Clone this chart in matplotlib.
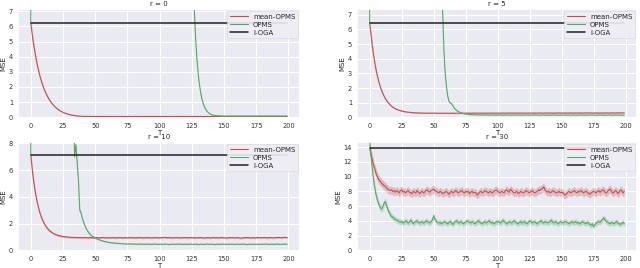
import matplotlib
matplotlib.use("Agg")
import matplotlib.pyplot as plt
import numpy as np
import seaborn as sns

sns.set_theme(style="darkgrid")
plt.rcParams['font.family'] = ['DejaVu Sans']

T = list(range(200))
titles = ["r = 0", "r = 5", "r = 10", "r = 30"]
labels = ["mean-OPMS", "OPMS", "I-OGA"]
oga = [6.2, 6.43, 7.13, 13.85]
ylims = [(-0.05, 7.15), (-0.05, 7.4), (-0.05, 8.1), (-0.1, 14.7)]
yticks = [list(range(0, 8)), list(range(0, 8)), [0, 2, 4, 6, 8], [0, 2, 4, 6, 8, 10, 12, 14]]
xticks = [0, 25, 50, 75, 100, 125, 150, 175, 200]

# ---- r = 0 ----
mean_opms_r0 = [
    6.20, 5.52, 4.91, 4.37, 3.89, 3.46, 3.08, 2.74, 2.44, 2.17, 1.93, 1.72, 1.53, 1.36, 1.21, 1.08, 0.96, 0.85, 0.76, 0.67,
    0.60, 0.53, 0.47, 0.42, 0.37, 0.33, 0.29, 0.26, 0.23, 0.20, 0.18, 0.16, 0.14, 0.13, 0.11, 0.10, 0.09, 0.08, 0.08, 0.07,
    0.06, 0.06, 0.06, 0.06, 0.06, 0.05, 0.06, 0.05, 0.05, 0.06, 0.05, 0.05, 0.05, 0.06, 0.05, 0.05, 0.05, 0.05, 0.06, 0.05,
    0.05, 0.05, 0.05, 0.06, 0.05, 0.05, 0.05, 0.05, 0.05, 0.06, 0.05, 0.05, 0.05, 0.05, 0.05, 0.05, 0.06, 0.05, 0.05, 0.05,
    0.05, 0.06, 0.05, 0.05, 0.05, 0.05, 0.05, 0.06, 0.05, 0.05, 0.05, 0.05, 0.06, 0.05, 0.05, 0.05, 0.05, 0.05, 0.06, 0.05,
    0.05, 0.05, 0.06, 0.05, 0.05, 0.05, 0.05, 0.05, 0.05, 0.06, 0.05, 0.05, 0.05, 0.06, 0.05, 0.05, 0.05, 0.05, 0.05, 0.05,
    0.06, 0.05, 0.05, 0.05, 0.05, 0.06, 0.05, 0.05, 0.05, 0.05, 0.05, 0.05, 0.06, 0.05, 0.05, 0.05, 0.05, 0.06, 0.05, 0.05,
    0.05, 0.05, 0.05, 0.06, 0.05, 0.05, 0.05, 0.05, 0.06, 0.05, 0.05, 0.05, 0.05, 0.05, 0.06, 0.05, 0.05, 0.05, 0.05, 0.05,
    0.05, 0.06, 0.05, 0.05, 0.05, 0.05, 0.05, 0.06, 0.05, 0.05, 0.05, 0.05, 0.05, 0.06, 0.05, 0.05, 0.05, 0.05, 0.06, 0.05,
    0.05, 0.05, 0.05, 0.05, 0.06, 0.05, 0.05, 0.05, 0.05, 0.06, 0.05, 0.05, 0.05, 0.05, 0.05, 0.06, 0.05, 0.05, 0.05, 0.05,
]
opms_r0 = [
    6.20, 420, 415, 410, 405, 400, 396, 392, 388, 384, 380, 376, 372, 368, 364, 360, 356, 352, 348, 344,
    340, 336, 332, 328, 324, 320, 316, 312, 308, 304, 300, 296, 292, 288, 284, 280, 276, 272, 268, 264,
    260, 256, 252, 248, 244, 240, 236, 232, 228, 224, 220, 216, 212, 208, 204, 200, 197, 194, 191, 188,
    185, 182, 179, 176, 173, 170, 167, 164, 161, 158, 155, 152, 149, 146, 143, 140, 137, 134, 131, 128,
    125, 122, 119, 116, 113, 110, 107, 104, 101, 98, 95, 92, 89, 86, 83, 80, 78, 76, 74, 72,
    70, 68, 66, 64, 62, 60, 58, 56, 54, 52, 50, 48, 46, 44, 42, 40, 36, 30, 25, 21,
    18.0, 16.0, 14.5, 13.5, 12.5, 11.0, 9.0, 6.9, 5.1, 3.8, 2.8, 2.1, 1.55, 1.15, 0.86, 0.65, 0.49, 0.37, 0.29, 0.23,
    0.18, 0.15, 0.13, 0.11, 0.10, 0.09, 0.09, 0.08, 0.08, 0.08, 0.08, 0.07, 0.08, 0.08, 0.07, 0.08, 0.08, 0.07, 0.08, 0.07,
    0.08, 0.07, 0.08, 0.08, 0.07, 0.08, 0.07, 0.08, 0.08, 0.07, 0.08, 0.08, 0.07, 0.08, 0.07, 0.08, 0.08, 0.07, 0.08, 0.08,
    0.07, 0.08, 0.08, 0.07, 0.08, 0.07, 0.08, 0.08, 0.07, 0.08, 0.08, 0.07, 0.08, 0.08, 0.07, 0.08, 0.07, 0.08, 0.08, 0.07,
]

# ---- r = 5 ----
mean_opms_r5 = [
    6.43, 5.63, 4.89, 4.25, 3.69, 3.22, 2.81, 2.45, 2.15, 1.89, 1.67, 1.48, 1.31, 1.17, 1.04, 0.94, 0.84, 0.76, 0.70, 0.64,
    0.59, 0.54, 0.51, 0.48, 0.45, 0.43, 0.41, 0.39, 0.37, 0.36, 0.35, 0.34, 0.33, 0.32, 0.31, 0.31, 0.30, 0.30, 0.30, 0.29,
    0.29, 0.29, 0.28, 0.29, 0.28, 0.28, 0.29, 0.28, 0.28, 0.28, 0.29, 0.28, 0.28, 0.28, 0.27, 0.28, 0.28, 0.28, 0.28, 0.27,
    0.28, 0.28, 0.27, 0.28, 0.28, 0.28, 0.28, 0.27, 0.28, 0.28, 0.28, 0.28, 0.29, 0.28, 0.28, 0.28, 0.28, 0.29, 0.28, 0.28,
    0.28, 0.29, 0.28, 0.28, 0.28, 0.29, 0.28, 0.28, 0.29, 0.28, 0.28, 0.29, 0.28, 0.28, 0.28, 0.29, 0.28, 0.29, 0.28, 0.28,
    0.29, 0.28, 0.28, 0.29, 0.29, 0.28, 0.28, 0.29, 0.28, 0.29, 0.29, 0.28, 0.29, 0.28, 0.29, 0.29, 0.28, 0.29, 0.29, 0.28,
    0.29, 0.29, 0.28, 0.29, 0.29, 0.29, 0.28, 0.29, 0.29, 0.29, 0.28, 0.29, 0.29, 0.29, 0.29, 0.28, 0.29, 0.29, 0.29, 0.29,
    0.29, 0.29, 0.29, 0.28, 0.29, 0.29, 0.29, 0.30, 0.29, 0.29, 0.29, 0.29, 0.30, 0.29, 0.29, 0.29, 0.29, 0.30, 0.29, 0.29,
    0.29, 0.30, 0.29, 0.29, 0.29, 0.30, 0.29, 0.29, 0.30, 0.29, 0.29, 0.30, 0.29, 0.30, 0.29, 0.29, 0.30, 0.29, 0.30, 0.29,
    0.29, 0.29, 0.30, 0.29, 0.29, 0.30, 0.30, 0.29, 0.30, 0.29, 0.30, 0.30, 0.29, 0.30, 0.30, 0.31, 0.30, 0.30, 0.30, 0.30,
]
opms_r5 = [
    6.43, 300, 290, 280, 270, 260, 250, 240, 230, 220, 210, 200, 192, 184, 176, 168, 160, 152, 145, 138,
    131, 124, 118, 112, 106, 100, 95, 90, 85, 80, 76, 72, 68, 64, 60, 57, 54, 51, 48, 45,
    42, 39, 37, 35, 33, 31, 29, 27, 25, 23, 21.5, 20, 18.5, 16.5, 14.5, 12.5, 10.5, 7.2, 4.6, 3.0,
    2.1, 1.45, 1.08, 0.98, 0.92, 0.78, 0.64, 0.54, 0.47, 0.41, 0.36, 0.32, 0.28, 0.26, 0.24, 0.22, 0.21, 0.20, 0.19, 0.18,
    0.18, 0.17, 0.17, 0.17, 0.16, 0.16, 0.16, 0.16, 0.16, 0.15, 0.16, 0.15, 0.16, 0.15, 0.15, 0.15, 0.16, 0.15, 0.15, 0.15,
    0.15, 0.16, 0.15, 0.15, 0.14, 0.15, 0.15, 0.16, 0.15, 0.15, 0.15, 0.14, 0.15, 0.15, 0.16, 0.15, 0.15, 0.15, 0.14, 0.15,
    0.15, 0.15, 0.16, 0.15, 0.15, 0.14, 0.15, 0.15, 0.15, 0.16, 0.15, 0.15, 0.15, 0.14, 0.15, 0.15, 0.16, 0.15, 0.15, 0.15,
    0.14, 0.15, 0.15, 0.15, 0.16, 0.15, 0.15, 0.15, 0.14, 0.15, 0.15, 0.15, 0.16, 0.15, 0.15, 0.14, 0.15, 0.15, 0.15, 0.16,
    0.15, 0.15, 0.14, 0.15, 0.15, 0.16, 0.15, 0.15, 0.15, 0.14, 0.15, 0.15, 0.16, 0.15, 0.15, 0.15, 0.14, 0.15, 0.15, 0.15,
    0.16, 0.15, 0.15, 0.14, 0.15, 0.15, 0.15, 0.16, 0.15, 0.15, 0.14, 0.15, 0.15, 0.15, 0.16, 0.15, 0.15, 0.15, 0.14, 0.15,
]

# ---- r = 10 ----
mean_opms_r10 = [
    7.13, 6.14, 5.33, 4.64, 4.07, 3.58, 3.17, 2.82, 2.53, 2.28, 2.08, 1.90, 1.75, 1.63, 1.52, 1.43, 1.36, 1.29, 1.24, 1.19,
    1.16, 1.12, 1.10, 1.07, 1.05, 1.04, 1.02, 1.01, 1.00, 0.99, 0.98, 0.97, 0.98, 0.96, 0.97, 0.96, 0.95, 0.96, 0.95, 0.94,
    0.95, 0.94, 0.96, 0.95, 0.93, 0.94, 0.96, 0.95, 0.94, 0.93, 0.95, 0.96, 0.94, 0.93, 0.95, 0.94, 0.96, 0.95, 0.93, 0.94,
    0.95, 0.93, 0.94, 0.96, 0.95, 0.94, 0.93, 0.95, 0.94, 0.96, 0.95, 0.93, 0.94, 0.95, 0.94, 0.93, 0.95, 0.96, 0.94, 0.95,
    0.94, 0.93, 0.95, 0.94, 0.96, 0.95, 0.94, 0.93, 0.94, 0.95, 0.96, 0.94, 0.95, 0.93, 0.94, 0.95, 0.94, 0.96, 0.95, 0.94,
    0.93, 0.95, 0.94, 0.96, 0.97, 0.95, 0.94, 0.96, 0.95, 0.93, 0.94, 0.95, 0.94, 0.96, 0.95, 0.94, 0.93, 0.95, 0.94, 0.96,
    0.95, 0.94, 0.93, 0.95, 0.96, 0.94, 0.95, 0.93, 0.94, 0.95, 0.94, 0.96, 0.95, 0.94, 0.93, 0.92, 0.94, 0.95, 0.94, 0.93,
    0.94, 0.95, 0.96, 0.94, 0.95, 0.93, 0.94, 0.95, 0.96, 0.95, 0.94, 0.93, 0.92, 0.94, 0.95, 0.94, 0.96, 0.95, 0.94, 0.93,
    0.95, 0.94, 0.93, 0.91, 0.93, 0.94, 0.95, 0.94, 0.96, 0.95, 0.94, 0.93, 0.95, 0.94, 0.93, 0.95, 0.96, 0.95, 0.94, 0.95,
    0.94, 0.96, 0.95, 0.94, 0.93, 0.95, 0.96, 0.94, 0.93, 0.95, 0.94, 0.96, 0.97, 0.95, 0.94, 0.95, 0.96, 0.98, 0.96, 0.95,
]
opms_r10 = [
    7.13, 200, 190, 180, 170, 160, 150, 141, 132, 124, 116, 108, 101, 94, 88, 82, 76, 71, 66, 61,
    57, 53, 49, 45, 42, 39, 36, 33, 30, 27, 24, 21, 17, 12, 7.0, 7.9, 6.6, 5.2, 3.0, 2.8,
    2.4, 2.1, 1.85, 1.62, 1.45, 1.32, 1.20, 1.10, 1.03, 0.98, 0.93, 0.88, 0.83, 0.79, 0.75, 0.72, 0.69, 0.66, 0.64, 0.62,
    0.60, 0.58, 0.57, 0.56, 0.55, 0.54, 0.53, 0.52, 0.51, 0.51, 0.50, 0.49, 0.49, 0.48, 0.48, 0.47, 0.48, 0.47, 0.46, 0.47,
    0.46, 0.47, 0.45, 0.46, 0.47, 0.46, 0.45, 0.46, 0.44, 0.46, 0.47, 0.45, 0.46, 0.45, 0.44, 0.46, 0.47, 0.46, 0.45, 0.44,
    0.45, 0.46, 0.44, 0.45, 0.47, 0.46, 0.45, 0.44, 0.43, 0.45, 0.46, 0.45, 0.44, 0.46, 0.45, 0.47, 0.46, 0.45, 0.44, 0.45,
    0.46, 0.45, 0.44, 0.46, 0.47, 0.45, 0.44, 0.45, 0.46, 0.45, 0.43, 0.44, 0.46, 0.45, 0.44, 0.45, 0.46, 0.47, 0.45, 0.44,
    0.45, 0.46, 0.44, 0.43, 0.45, 0.46, 0.45, 0.44, 0.46, 0.47, 0.45, 0.44, 0.45, 0.46, 0.44, 0.45, 0.46, 0.45, 0.44, 0.45,
    0.46, 0.45, 0.44, 0.45, 0.46, 0.47, 0.45, 0.44, 0.43, 0.45, 0.46, 0.45, 0.44, 0.46, 0.45, 0.44, 0.45, 0.46, 0.44, 0.45,
    0.46, 0.45, 0.47, 0.46, 0.45, 0.44, 0.45, 0.46, 0.45, 0.44, 0.46, 0.47, 0.46, 0.45, 0.44, 0.46, 0.45, 0.47, 0.46, 0.45,
]

# ---- r = 30 ----
mean_opms_r30 = [
    13.85, 13.0, 12.3, 11.6, 11.0, 10.4, 10.0, 9.6, 9.4, 9.2, 9.0, 8.8, 8.7, 8.5, 8.3, 8.2, 8.1, 8.2, 8.0, 8.1,
    7.9, 8.1, 8.0, 7.8, 8.1, 8.2, 7.9, 8.0, 7.8, 8.0, 8.1, 7.9, 7.8, 7.7, 8.0, 7.9, 7.8, 8.1, 7.9, 7.7,
    7.9, 8.0, 7.8, 7.9, 8.1, 8.2, 8.0, 7.9, 8.1, 8.2, 8.3, 8.1, 8.0, 7.9, 7.8, 8.0, 7.9, 7.7, 7.8, 7.9,
    8.0, 7.8, 7.6, 7.9, 8.0, 7.8, 7.9, 8.1, 8.0, 7.8, 7.9, 8.0, 8.1, 7.9, 7.8, 8.0, 7.9, 8.0, 7.7, 7.9,
    8.0, 7.8, 7.9, 7.8, 7.5, 7.7, 7.9, 8.0, 7.8, 7.9, 8.1, 8.0, 7.9, 7.8, 8.0, 7.9, 7.8, 8.0, 8.1, 8.2,
    8.0, 7.9, 7.8, 8.0, 7.9, 7.8, 8.1, 8.2, 8.0, 7.9, 8.3, 8.1, 7.9, 7.8, 7.9, 8.0, 7.7, 7.8, 8.0, 7.9,
    7.8, 7.9, 8.1, 8.0, 7.9, 7.8, 8.0, 8.1, 7.9, 7.8, 7.9, 8.0, 8.2, 8.1, 8.3, 8.4, 8.6, 8.2, 8.0, 7.9,
    8.0, 7.8, 7.9, 8.1, 8.0, 7.9, 7.8, 7.9, 8.0, 7.8, 7.9, 7.8, 7.6, 7.5, 7.7, 7.9, 8.0, 7.8, 7.9, 8.0,
    8.1, 7.9, 7.8, 8.0, 7.9, 8.1, 8.0, 7.8, 7.9, 8.0, 7.9, 7.7, 7.6, 7.8, 7.9, 8.0, 7.9, 7.8, 8.0, 8.1,
    7.9, 8.0, 8.2, 8.1, 7.9, 7.8, 8.0, 8.2, 8.3, 8.0, 7.8, 7.9, 8.1, 8.0, 7.7, 7.9, 8.2, 8.1, 7.8, 8.0,
]
opms_r30 = [
    14.9, 12.8, 11.0, 9.6, 8.4, 7.5, 6.8, 6.3, 5.9, 5.6, 5.8, 6.3, 6.6, 6.2, 5.6, 5.2, 4.9, 4.6, 4.5, 4.3,
    4.2, 4.1, 4.0, 3.9, 3.8, 3.9, 3.7, 3.8, 4.0, 3.9, 3.7, 3.8, 4.1, 3.9, 3.6, 3.8, 3.9, 4.0, 3.8, 3.7,
    3.8, 3.9, 3.7, 3.8, 4.0, 3.9, 3.8, 3.7, 3.9, 4.1, 4.7, 4.2, 3.9, 3.8, 3.7, 3.8, 3.6, 3.7, 3.9, 3.8,
    3.7, 3.6, 3.8, 3.9, 3.7, 3.5, 3.8, 3.9, 4.0, 3.8, 3.7, 3.9, 3.8, 3.6, 3.7, 3.8, 4.0, 3.9, 3.8, 3.7,
    3.9, 3.8, 3.6, 3.7, 3.9, 4.0, 3.8, 3.7, 3.6, 3.8, 3.9, 3.7, 3.8, 4.0, 3.9, 3.7, 3.8, 3.6, 3.7, 3.9,
    3.8, 3.9, 3.7, 3.8, 4.1, 3.9, 3.8, 3.6, 3.7, 3.9, 3.8, 3.7, 3.9, 4.0, 3.8, 3.7, 3.6, 3.8, 3.9, 3.7,
    3.8, 3.9, 3.7, 3.6, 3.8, 4.0, 3.9, 3.7, 3.8, 3.9, 3.7, 3.6, 3.8, 3.9, 4.0, 3.8, 3.7, 3.9, 3.8, 3.7,
    3.8, 3.9, 4.1, 3.8, 3.7, 3.9, 3.8, 3.6, 3.7, 3.9, 3.8, 3.7, 3.8, 3.9, 3.8, 3.7, 3.6, 3.8, 3.9, 3.7,
    3.8, 3.9, 3.7, 3.8, 3.6, 3.7, 3.9, 3.8, 3.7, 3.6, 3.8, 3.7, 3.5, 3.4, 3.6, 3.2, 3.5, 3.7, 3.8, 3.9,
    3.8, 4.0, 4.2, 4.4, 4.1, 3.9, 3.8, 3.7, 3.6, 3.8, 3.7, 3.6, 3.8, 3.9, 3.7, 3.6, 3.5, 3.7, 3.8, 3.6,
]

mean_series = [mean_opms_r0, mean_opms_r5, mean_opms_r10, mean_opms_r30]
opms_series = [opms_r0, opms_r5, opms_r10, opms_r30]
band_abs = [0.02, 0.02, 0.03, 0.22]
band_rel = 0.04

red = "#c44e52"
green = "#55a868"

fig = plt.figure(figsize=(6.4, 2.68), dpi=100)
W, H = 640.0, 268.0
boxes = [(18, 9, 300, 118), (357, 9, 637, 118), (18, 142, 300, 251), (357, 142, 637, 251)]

for i in range(4):
    x0, y0, x1, y1 = boxes[i]
    ax = fig.add_axes([x0 / W, 1 - y1 / H, (x1 - x0) / W, (y1 - y0) / H])
    t = np.array(T)
    m = np.array(mean_series[i])
    o = np.array(opms_series[i])
    hm = band_rel * m + band_abs[i]
    ho = band_rel * o + band_abs[i]
    ax.fill_between(t, m - hm, m + hm, color=red, alpha=0.3, lw=0)
    ax.plot(t, m, color=red, lw=0.8, label=labels[0])
    ax.fill_between(t, o - ho, o + ho, color=green, alpha=0.3, lw=0)
    ax.plot(t, o, color=green, lw=0.8, label=labels[1])
    ax.plot(t, [oga[i]] * len(T), color="#222222", lw=1.1, label=labels[2])
    ax.set_xlim(-9.95, 208.95)
    ax.set_ylim(*ylims[i])
    ax.set_xticks(xticks)
    ax.set_yticks(yticks[i])
    ax.tick_params(axis="both", labelsize=4.8, pad=3.5, length=0, labelcolor="#333333")
    ax.set_title(titles[i], fontsize=5, pad=2)
    ax.set_xlabel("T", fontsize=5, labelpad=1)
    ax.set_ylabel("MSE", fontsize=5, labelpad=2)
    ax.grid(True, color="white", lw=0.8)
    leg = ax.legend(loc="upper right", fontsize=5, frameon=True, borderaxespad=0.25,
                    handlelength=2.5, labelspacing=0.3, borderpad=0.4,
                    facecolor="#eeeef4", edgecolor="#d8d8e2", framealpha=0.9)
    leg.get_frame().set_linewidth(0.5)

fig.savefig("out.png", dpi=100)
